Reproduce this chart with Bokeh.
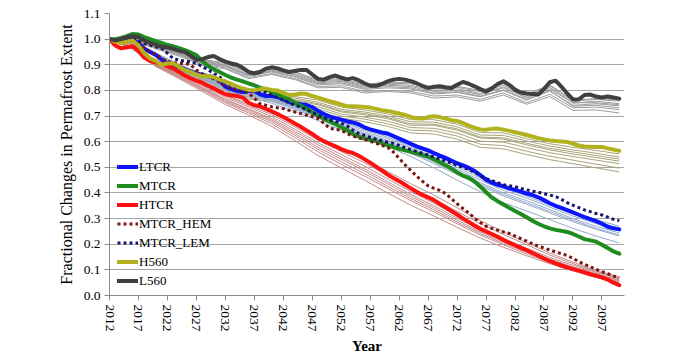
from bokeh.plotting import figure
from bokeh.models import Range1d, FixedTicker, Legend, LegendItem
from bokeh.embed import file_html
from bokeh.resources import INLINE

years = list(range(2012, 2101))
years4 = list(range(2012, 2101, 4))
x_ticks = [2012, 2017, 2022, 2027, 2032, 2037, 2042, 2047, 2052, 2057,
           2062, 2067, 2072, 2077, 2082, 2087, 2092, 2097]
y_ticks = [0.0, 0.1, 0.2, 0.3, 0.4, 0.5, 0.6, 0.7, 0.8, 0.9, 1.0, 1.1]

LTCR = [1.000, 0.990, 0.995, 1.000, 0.998, 0.985, 0.962, 0.950, 0.938, 0.920,
        0.905, 0.898, 0.892, 0.882, 0.874, 0.866, 0.860, 0.856, 0.852, 0.840,
        0.815, 0.805, 0.798, 0.794, 0.798, 0.798, 0.785, 0.778, 0.778, 0.775,
        0.765, 0.755, 0.750, 0.746, 0.743, 0.735, 0.720, 0.708, 0.698, 0.692,
        0.686, 0.680, 0.675, 0.668, 0.656, 0.648, 0.642, 0.636, 0.632, 0.622,
        0.612, 0.602, 0.592, 0.582, 0.574, 0.566, 0.556, 0.546, 0.537, 0.526,
        0.516, 0.508, 0.498, 0.486, 0.470, 0.452, 0.440, 0.432, 0.426, 0.418,
        0.412, 0.405, 0.398, 0.392, 0.383, 0.372, 0.360, 0.350, 0.342, 0.333,
        0.324, 0.315, 0.306, 0.298, 0.290, 0.280, 0.268, 0.262, 0.258]

MTCR = [1.000, 1.000, 1.005, 1.012, 1.020, 1.018, 1.008, 1.000, 0.992, 0.985,
        0.977, 0.972, 0.965, 0.957, 0.948, 0.937, 0.915, 0.895, 0.882, 0.872,
        0.860, 0.850, 0.842, 0.835, 0.827, 0.820, 0.810, 0.805, 0.795, 0.782,
        0.775, 0.765, 0.752, 0.740, 0.728, 0.715, 0.702, 0.690, 0.678, 0.668,
        0.656, 0.645, 0.630, 0.620, 0.612, 0.607, 0.602, 0.594, 0.586, 0.579,
        0.572, 0.566, 0.560, 0.555, 0.548, 0.542, 0.532, 0.520, 0.508, 0.495,
        0.480, 0.468, 0.460, 0.445, 0.425, 0.404, 0.382, 0.368, 0.355, 0.342,
        0.330, 0.318, 0.305, 0.292, 0.280, 0.270, 0.262, 0.256, 0.252, 0.248,
        0.240, 0.230, 0.220, 0.215, 0.210, 0.198, 0.185, 0.172, 0.163]

HTCR = [1.000, 0.975, 0.964, 0.968, 0.972, 0.955, 0.928, 0.915, 0.910, 0.904,
        0.895, 0.886, 0.872, 0.858, 0.847, 0.838, 0.830, 0.818, 0.808, 0.796,
        0.785, 0.781, 0.778, 0.772, 0.752, 0.742, 0.738, 0.728, 0.718, 0.708,
        0.696, 0.684, 0.671, 0.658, 0.644, 0.630, 0.614, 0.602, 0.592, 0.582,
        0.571, 0.562, 0.556, 0.545, 0.532, 0.518, 0.503, 0.488, 0.472, 0.458,
        0.446, 0.432, 0.418, 0.405, 0.393, 0.383, 0.372, 0.358, 0.344, 0.330,
        0.316, 0.301, 0.287, 0.273, 0.260, 0.250, 0.240, 0.229, 0.217, 0.206,
        0.196, 0.186, 0.177, 0.166, 0.155, 0.144, 0.134, 0.125, 0.117, 0.110,
        0.103, 0.097, 0.090, 0.083, 0.077, 0.071, 0.062, 0.050, 0.040]

MTCR_HEM = [1.000, 0.995, 1.000, 1.005, 1.000, 0.985, 0.965, 0.950, 0.940, 0.925,
            0.912, 0.908, 0.906, 0.905, 0.900, 0.880, 0.865, 0.855, 0.845, 0.832,
            0.818, 0.808, 0.802, 0.798, 0.790, 0.770, 0.748, 0.742, 0.736, 0.732,
            0.729, 0.722, 0.716, 0.710, 0.704, 0.698, 0.690, 0.672, 0.652, 0.648,
            0.644, 0.632, 0.622, 0.615, 0.610, 0.602, 0.594, 0.586, 0.578, 0.560,
            0.535, 0.510, 0.488, 0.466, 0.446, 0.428, 0.418, 0.410, 0.398, 0.378,
            0.358, 0.340, 0.322, 0.302, 0.285, 0.270, 0.262, 0.255, 0.248, 0.242,
            0.232, 0.222, 0.212, 0.202, 0.193, 0.185, 0.178, 0.170, 0.163, 0.156,
            0.145, 0.132, 0.122, 0.112, 0.102, 0.093, 0.085, 0.076, 0.070]

MTCR_LEM = [1.000, 0.995, 1.000, 1.005, 1.005, 0.995, 0.982, 0.977, 0.970, 0.964,
            0.945, 0.925, 0.918, 0.914, 0.911, 0.905, 0.894, 0.880, 0.867, 0.852,
            0.836, 0.822, 0.812, 0.803, 0.798, 0.796, 0.794, 0.792, 0.782, 0.772,
            0.762, 0.752, 0.742, 0.735, 0.725, 0.714, 0.704, 0.694, 0.685, 0.679,
            0.672, 0.662, 0.645, 0.632, 0.625, 0.617, 0.610, 0.604, 0.598, 0.593,
            0.585, 0.577, 0.569, 0.562, 0.555, 0.548, 0.540, 0.533, 0.525, 0.517,
            0.508, 0.500, 0.491, 0.481, 0.468, 0.456, 0.448, 0.440, 0.432, 0.428,
            0.424, 0.418, 0.412, 0.407, 0.403, 0.397, 0.392, 0.386, 0.375, 0.362,
            0.352, 0.343, 0.334, 0.327, 0.320, 0.314, 0.306, 0.297, 0.292]

H560 = [1.000, 0.990, 0.985, 0.990, 0.995, 0.975, 0.945, 0.925, 0.915, 0.900,
        0.905, 0.905, 0.892, 0.880, 0.872, 0.862, 0.855, 0.856, 0.852, 0.842,
        0.834, 0.826, 0.816, 0.808, 0.802, 0.800, 0.805, 0.807, 0.802, 0.800,
        0.790, 0.782, 0.784, 0.788, 0.786, 0.778, 0.772, 0.765, 0.758, 0.752,
        0.745, 0.738, 0.738, 0.737, 0.735, 0.733, 0.728, 0.723, 0.720, 0.715,
        0.710, 0.704, 0.697, 0.691, 0.690, 0.696, 0.699, 0.696, 0.690, 0.684,
        0.681, 0.672, 0.663, 0.655, 0.648, 0.647, 0.650, 0.651, 0.647, 0.642,
        0.637, 0.632, 0.626, 0.620, 0.614, 0.609, 0.605, 0.603, 0.601, 0.599,
        0.592, 0.585, 0.581, 0.580, 0.579, 0.579, 0.574, 0.569, 0.564]

L560 = [1.000, 0.995, 1.000, 1.008, 1.012, 1.008, 0.995, 0.985, 0.978, 0.970,
        0.968, 0.962, 0.955, 0.950, 0.935, 0.920, 0.922, 0.930, 0.934, 0.922,
        0.912, 0.905, 0.900, 0.888, 0.872, 0.866, 0.872, 0.885, 0.890, 0.886,
        0.878, 0.872, 0.876, 0.880, 0.880, 0.862, 0.845, 0.842, 0.852, 0.858,
        0.850, 0.843, 0.848, 0.840, 0.828, 0.818, 0.818, 0.825, 0.835, 0.842,
        0.845, 0.842, 0.836, 0.828, 0.818, 0.810, 0.814, 0.816, 0.812, 0.809,
        0.822, 0.833, 0.826, 0.816, 0.805, 0.795, 0.808, 0.825, 0.836, 0.822,
        0.803, 0.792, 0.788, 0.786, 0.784, 0.805, 0.832, 0.838, 0.815, 0.788,
        0.765, 0.765, 0.782, 0.784, 0.776, 0.772, 0.776, 0.772, 0.768]

# ensemble members (every 4 years, 2012..2100)
L560_members = [
    [1.0, 1.008, 0.975, 0.950, 0.918, 0.905, 0.868, 0.885, 0.868, 0.838, 0.842, 0.820, 0.828, 0.826, 0.806, 0.812, 0.795, 0.820, 0.780, 0.818, 0.758, 0.765, 0.758],
    [1.0, 1.004, 0.970, 0.945, 0.912, 0.898, 0.862, 0.878, 0.860, 0.830, 0.835, 0.812, 0.820, 0.815, 0.796, 0.800, 0.784, 0.810, 0.770, 0.806, 0.750, 0.758, 0.748],
    [1.0, 1.000, 0.968, 0.940, 0.906, 0.893, 0.856, 0.872, 0.852, 0.822, 0.826, 0.804, 0.810, 0.806, 0.786, 0.792, 0.775, 0.800, 0.762, 0.797, 0.742, 0.748, 0.740],
    [1.0, 1.006, 0.972, 0.948, 0.915, 0.900, 0.858, 0.875, 0.855, 0.826, 0.830, 0.808, 0.815, 0.810, 0.790, 0.795, 0.778, 0.802, 0.765, 0.800, 0.738, 0.742, 0.732],
    [1.0, 0.998, 0.965, 0.938, 0.902, 0.888, 0.850, 0.866, 0.846, 0.815, 0.818, 0.796, 0.800, 0.796, 0.778, 0.782, 0.765, 0.790, 0.752, 0.785, 0.732, 0.735, 0.725],
    [1.0, 1.002, 0.970, 0.942, 0.908, 0.895, 0.860, 0.880, 0.862, 0.834, 0.838, 0.816, 0.824, 0.820, 0.800, 0.806, 0.788, 0.814, 0.774, 0.812, 0.752, 0.752, 0.744],
    [1.0, 0.996, 0.962, 0.934, 0.898, 0.884, 0.846, 0.862, 0.842, 0.810, 0.812, 0.790, 0.796, 0.790, 0.770, 0.775, 0.758, 0.782, 0.746, 0.776, 0.722, 0.724, 0.712],
    [1.0, 1.010, 0.976, 0.952, 0.920, 0.908, 0.870, 0.888, 0.872, 0.842, 0.846, 0.824, 0.832, 0.830, 0.810, 0.816, 0.800, 0.826, 0.784, 0.822, 0.762, 0.768, 0.762],
]
H560_members = [
    [1.0, 0.990, 0.912, 0.888, 0.850, 0.828, 0.795, 0.794, 0.776, 0.762, 0.735, 0.724, 0.708, 0.686, 0.686, 0.668, 0.636, 0.634, 0.612, 0.592, 0.578, 0.566, 0.552],
    [1.0, 0.985, 0.905, 0.880, 0.842, 0.818, 0.785, 0.782, 0.764, 0.748, 0.720, 0.710, 0.694, 0.670, 0.668, 0.650, 0.618, 0.615, 0.594, 0.574, 0.560, 0.546, 0.532],
    [1.0, 0.982, 0.900, 0.874, 0.835, 0.810, 0.776, 0.772, 0.752, 0.736, 0.708, 0.696, 0.680, 0.655, 0.652, 0.634, 0.602, 0.598, 0.577, 0.557, 0.542, 0.528, 0.514],
    [1.0, 0.988, 0.908, 0.884, 0.845, 0.822, 0.790, 0.786, 0.770, 0.754, 0.726, 0.716, 0.700, 0.678, 0.676, 0.658, 0.626, 0.624, 0.603, 0.583, 0.568, 0.555, 0.540],
    [1.0, 0.980, 0.896, 0.870, 0.830, 0.804, 0.770, 0.765, 0.745, 0.728, 0.700, 0.688, 0.670, 0.645, 0.642, 0.622, 0.590, 0.585, 0.563, 0.543, 0.528, 0.512, 0.497],
    [1.0, 0.978, 0.892, 0.866, 0.826, 0.798, 0.764, 0.758, 0.738, 0.720, 0.692, 0.678, 0.660, 0.634, 0.630, 0.610, 0.578, 0.572, 0.550, 0.530, 0.514, 0.498, 0.482],
    [1.0, 0.984, 0.904, 0.878, 0.840, 0.815, 0.782, 0.778, 0.760, 0.744, 0.716, 0.705, 0.690, 0.664, 0.664, 0.645, 0.614, 0.610, 0.588, 0.568, 0.552, 0.538, 0.524],
]
TCR_members = [
    [1.0, 0.995, 0.945, 0.900, 0.862, 0.820, 0.796, 0.772, 0.742, 0.710, 0.676, 0.645, 0.618, 0.580, 0.540, 0.500, 0.458, 0.418, 0.388, 0.352, 0.318, 0.288, 0.262],
    [1.0, 0.990, 0.940, 0.895, 0.855, 0.812, 0.788, 0.764, 0.734, 0.700, 0.664, 0.632, 0.605, 0.566, 0.526, 0.484, 0.440, 0.400, 0.370, 0.335, 0.300, 0.270, 0.244],
    [1.0, 0.992, 0.942, 0.898, 0.858, 0.816, 0.792, 0.768, 0.738, 0.705, 0.670, 0.638, 0.612, 0.574, 0.534, 0.492, 0.450, 0.410, 0.380, 0.345, 0.310, 0.280, 0.254],
    [1.0, 0.988, 0.936, 0.890, 0.850, 0.806, 0.782, 0.757, 0.726, 0.692, 0.656, 0.622, 0.595, 0.555, 0.514, 0.472, 0.428, 0.388, 0.356, 0.322, 0.288, 0.258, 0.232],
    [1.0, 0.985, 0.932, 0.885, 0.845, 0.800, 0.775, 0.750, 0.718, 0.682, 0.645, 0.610, 0.582, 0.542, 0.498, 0.450, 0.405, 0.362, 0.330, 0.296, 0.262, 0.232, 0.205],
    [1.0, 0.996, 0.946, 0.902, 0.864, 0.822, 0.798, 0.775, 0.745, 0.714, 0.680, 0.650, 0.624, 0.586, 0.548, 0.508, 0.466, 0.426, 0.396, 0.360, 0.326, 0.296, 0.270],
    [1.0, 0.990, 0.938, 0.892, 0.852, 0.808, 0.784, 0.760, 0.730, 0.696, 0.660, 0.626, 0.600, 0.560, 0.520, 0.478, 0.434, 0.394, 0.362, 0.328, 0.294, 0.262, 0.236],
]
HTCR_members = [
    [1.0, 0.968, 0.905, 0.862, 0.818, 0.772, 0.736, 0.698, 0.648, 0.596, 0.550, 0.505, 0.455, 0.405, 0.360, 0.310, 0.262, 0.222, 0.185, 0.148, 0.118, 0.090, 0.065],
    [1.0, 0.965, 0.900, 0.856, 0.810, 0.762, 0.724, 0.684, 0.632, 0.578, 0.532, 0.486, 0.436, 0.386, 0.342, 0.294, 0.248, 0.210, 0.174, 0.140, 0.110, 0.082, 0.058],
    [1.0, 0.970, 0.908, 0.866, 0.822, 0.778, 0.742, 0.706, 0.658, 0.606, 0.562, 0.518, 0.468, 0.420, 0.376, 0.328, 0.280, 0.238, 0.198, 0.158, 0.124, 0.094, 0.068],
    [1.0, 0.962, 0.896, 0.850, 0.802, 0.752, 0.712, 0.670, 0.616, 0.560, 0.512, 0.466, 0.418, 0.370, 0.326, 0.280, 0.236, 0.198, 0.162, 0.130, 0.100, 0.074, 0.050],
    [1.0, 0.966, 0.902, 0.858, 0.812, 0.765, 0.728, 0.690, 0.640, 0.588, 0.540, 0.494, 0.444, 0.394, 0.350, 0.302, 0.255, 0.215, 0.178, 0.142, 0.112, 0.085, 0.060],
    [1.0, 0.972, 0.910, 0.870, 0.826, 0.782, 0.748, 0.714, 0.668, 0.618, 0.574, 0.532, 0.484, 0.436, 0.392, 0.342, 0.292, 0.248, 0.206, 0.166, 0.130, 0.098, 0.072],
    [1.0, 0.960, 0.893, 0.846, 0.796, 0.745, 0.704, 0.660, 0.604, 0.546, 0.498, 0.450, 0.400, 0.352, 0.310, 0.266, 0.224, 0.188, 0.155, 0.124, 0.096, 0.070, 0.046],
    [1.0, 0.964, 0.898, 0.853, 0.806, 0.757, 0.718, 0.678, 0.625, 0.570, 0.522, 0.476, 0.426, 0.378, 0.334, 0.287, 0.242, 0.204, 0.168, 0.135, 0.105, 0.078, 0.054],
]

for s in (LTCR, MTCR, HTCR, MTCR_HEM, MTCR_LEM, H560, L560):
    assert len(s) == len(years), len(s)
for grp in (L560_members, H560_members, TCR_members, HTCR_members):
    for s in grp:
        assert len(s) == len(years4), len(s)

SERIF = "Liberation Serif"

p = figure(width=684, height=356, output_backend="svg", toolbar_location=None,
           x_range=Range1d(2012, 2100.9), y_range=Range1d(0, 1.1),
           min_border_left=109, min_border_right=60, min_border_top=13,
           min_border_bottom=61)
p.outline_line_color = None
p.background_fill_color = "white"

# axes
p.xaxis.ticker = FixedTicker(ticks=x_ticks)
p.yaxis.ticker = FixedTicker(ticks=y_ticks)
p.yaxis.major_label_overrides = {t: "%.1f" % t for t in y_ticks}
p.xaxis.major_label_orientation = "vertical"
for ax in (p.xaxis[0], p.yaxis[0]):
    ax.axis_line_color = "#8C8C8C"
    ax.major_tick_line_color = "#8C8C8C"
    ax.major_tick_out = 5
    ax.major_tick_in = 0
    ax.minor_tick_line_color = None
    ax.major_label_text_font = SERIF
    ax.major_label_text_font_size = "13.5px"
    ax.major_label_text_color = "black"
    ax.axis_label_text_font = SERIF
    ax.axis_label_text_color = "black"
    ax.axis_label_text_font_style = "normal"
p.yaxis.axis_label = "Fractional Changes in Permafrost Extent"
p.yaxis.axis_label_text_font_size = "16px"
p.yaxis.axis_label_standoff = 6
p.xaxis.axis_label = "Year"
p.xaxis.axis_label_text_font_size = "15px"
p.xaxis.axis_label_text_font_style = "bold"
p.xaxis.axis_label_standoff = 3
p.xaxis.major_label_standoff = 4
p.yaxis.major_label_standoff = 4
p.xgrid.grid_line_color = None
p.ygrid.grid_line_color = "#A6A6A6"
p.ygrid.grid_line_width = 1

# thin ensemble members
for grp, col in ((L560_members, "#9C9C9C"), (H560_members, "#A8A478"),
                 (TCR_members, "#94AACB"), (HTCR_members, "#C68A8A")):
    for s in grp:
        p.line(years4, s, line_color=col, line_width=1)

main = [
    ("LTCR", LTCR, "#0A14FF", 4, None),
    ("MTCR", MTCR, "#1E8C1E", 4, None),
    ("HTCR", HTCR, "#FF1010", 4, None),
    ("MTCR_HEM", MTCR_HEM, "#7A1515", 3, "3 3"),
    ("MTCR_LEM", MTCR_LEM, "#15156E", 3, "3 3"),
    ("H560", H560, "#B2B21E", 4, None),
    ("L560", L560, "#404040", 4, None),
]
items = []
for name, vals, col, w, dash in main:
    kw = dict(line_color=col, line_width=w, line_join="round")
    if dash:
        kw["line_dash"] = dash
        kw["line_cap"] = "butt"
    else:
        kw["line_cap"] = "round"
    r = p.line(years, vals, **kw)
    items.append(LegendItem(label=name, renderers=[r]))

legend = Legend(items=items, location=(8, 5), glyph_width=21, glyph_height=19,
                label_height=19, spacing=0, padding=0, margin=0,
                label_standoff=1, label_text_font=SERIF,
                label_text_font_size="13px", label_text_color="black",
                background_fill_alpha=0, border_line_alpha=0)
p.add_layout(legend)

open("out.html", "w").write(file_html(p, INLINE))
